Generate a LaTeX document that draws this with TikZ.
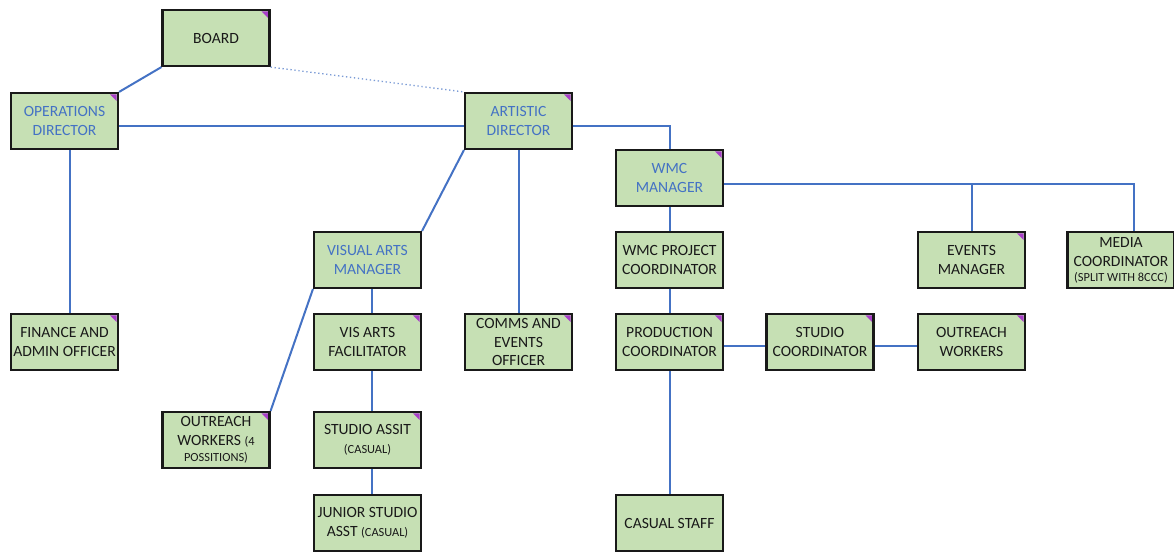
\documentclass[tikz,border=0pt]{standalone}
\usepackage{fontspec}
\setmainfont{Carlito}
\usetikzlibrary{positioning}
\definecolor{boxgreen}{RGB}{198,224,180}
\definecolor{lineblue}{RGB}{68,114,196}
\definecolor{headblue}{RGB}{68,114,196}
\definecolor{notepurple}{RGB}{168,62,200}

\tikzset{
  post/.style={rectangle,draw=black!90,line width=1.6pt,fill=boxgreen,
    minimum width=80.25pt,minimum height=42pt,inner sep=1pt,align=center,
    font=\fontsize{11.7}{14.3}\selectfont,text=black!90},
  head/.style={text=headblue},
  flagged/.style={path picture={
    \fill[notepurple] ([xshift=-1pt,yshift=-1pt]path picture bounding box.north east)
      -- ++(-5pt,0) -- ++(5pt,-5pt) -- cycle;}},
  link/.style={draw=lineblue,line width=1.5pt},
}
\newcommand{\smalltxt}{\fontsize{9.3}{11}\selectfont}

\begin{document}
\begin{tikzpicture}[x=0.75pt,y=-0.75pt]
  \useasboundingbox (0,0) rectangle (1174,551);

  % top of the tree
  \node[post,flagged] (board) at (216,38) {BOARD};
  \node[post,head,flagged] (ops) at (64.5,121) {OPERATIONS\\DIRECTOR};
  \node[post,head,flagged] (art) at (518.5,121) {ARTISTIC\\DIRECTOR};
  \node[post,head,flagged] (wmc) at (669.5,178) {WMC\\MANAGER};

  % second row
  \node[post,head] (vam) at (367.5,260) {VISUAL ARTS\\MANAGER};
  \node[post] (proj) at (669.5,260) {WMC PROJECT\\COORDINATOR};
  \node[post,flagged] (events) at (971.5,260) {EVENTS\\MANAGER};
  \node[post] (media) at (1121,260) {MEDIA\\COORDINATOR\\[-3pt]{\smalltxt(SPLIT WITH 8CCC)}};

  % third row
  \node[post,flagged] (finance) at (64.5,342) {FINANCE AND\\ADMIN OFFICER};
  \node[post,flagged] (vaf) at (367.5,342) {VIS ARTS\\FACILITATOR};
  \node[post,flagged] (comms) at (518.5,342) {COMMS AND\\EVENTS\\[-1pt]OFFICER};
  \node[post,flagged] (prod) at (669.5,342) {PRODUCTION\\COORDINATOR};
  \node[post,flagged] (studio) at (820,342) {STUDIO\\COORDINATOR};
  \node[post,flagged] (outreach) at (971.5,342) {OUTREACH\\WORKERS};

  % bottom rows
  \node[post,flagged] (outreachfour) at (216,440) {OUTREACH\\WORKERS {\smalltxt(4}\\[-2pt]{\smalltxt POSSITIONS)}};
  \node[post,flagged] (assit) at (367.5,440) {STUDIO ASSIT\\{\smalltxt(CASUAL)}};
  \node[post] (junior) at (367.5,523) {JUNIOR STUDIO\\ASST {\smalltxt(CASUAL)}};
  \node[post] (casual) at (669.5,523) {CASUAL STAFF};

  % connectors
  \draw[link] (board.south west) -- (ops.north east);
  \draw[draw=lineblue!70,line width=1pt,dotted] (board.south east) -- (art.north west);
  \draw[link] ([yshift=-3.75pt]ops.east) -- ([yshift=-3.75pt]art.west);
  \draw[link] ([yshift=-3.75pt]art.east) -| (wmc.north);
  \draw[link] ([xshift=3.75pt]ops.south) -- ([xshift=3.75pt]finance.north);
  \draw[link] (art.south west) -- (vam.north east);
  \draw[link] (art.south) -- (comms.north);
  \draw[link] ([yshift=-4.5pt]wmc.east) -| ([xshift=9.75pt]media.north);
  \draw[link] (events.north) |- ([yshift=-4.5pt]wmc.east);
  \draw[link] (wmc) -- (proj);
  \draw[link] (proj) -- (prod);
  \draw[link] (prod) -- (casual);
  \draw[link] ([yshift=-3pt]prod.east) -- ([yshift=-3pt]studio.west);
  \draw[link] ([yshift=-3pt]studio.east) -- ([yshift=-3pt]outreach.west);
  \draw[link] ([xshift=3pt]vam.south) -- ([xshift=3pt]vaf.north);
  \draw[link] ([xshift=3pt]vaf.south) -- ([xshift=3pt]assit.north);
  \draw[link] ([xshift=3pt]assit.south) -- ([xshift=3pt]junior.north);
  \draw[link] (vam.south west) -- (outreachfour.north east);
\end{tikzpicture}
\end{document}
